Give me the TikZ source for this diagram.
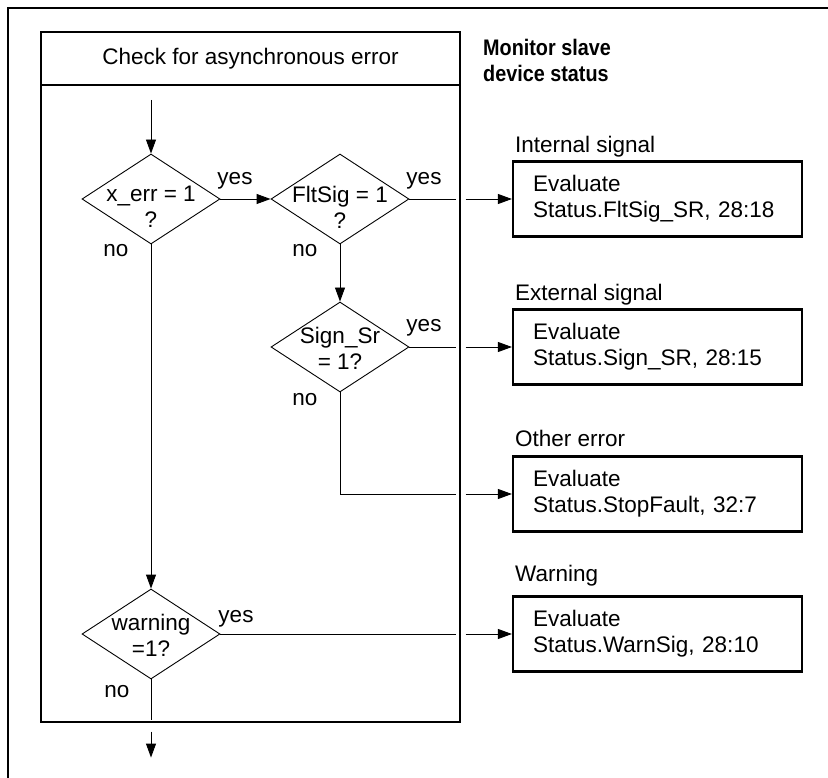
\documentclass[tikz,border=0pt]{standalone}
\usepackage{fontspec}
\usepackage{graphicx}
\setmainfont{Liberation Sans}
\usetikzlibrary{shapes.geometric,arrows.meta,calc}
\begin{document}
\begin{tikzpicture}[x=1pt,y=-1pt,
  every node/.style={font=\fontsize{22.5}{26}\selectfont},
  decision/.style={draw, shape=diamond, minimum width=138pt, minimum height=90pt,
    inner sep=0pt, line width=0.9pt},
  dtext/.style={align=center, inner sep=0pt},
  evalbox/.style={draw, line width=2.2pt, minimum width=289pt, minimum height=75pt,
    text width=249pt, inner xsep=20pt, inner ysep=0pt, align=left},
  caption/.style={anchor=base west, inner sep=0pt},
  answer/.style={anchor=base, inner sep=0pt},
  heading/.style={anchor=base west, inner sep=0pt, font=\fontsize{22.5}{26}\selectfont\bfseries},
  flow/.style={line width=0.9pt},
  tip/.style={-{Triangle[length=14pt,width=10pt]}},
  panelline/.style={draw, line width=1.1pt, inner sep=0pt}
]
\useasboundingbox (0,0) rectangle (828,778);

% outer frame (top and left edges)
\draw[line width=1.6pt] (828,8) -- (8,8) -- (8,778);

% procedure panel with its header
\node (head) [panelline, minimum width=419pt, minimum height=53pt] at (250.5,58.5)
  {Check for asynchronous error};
\node (panel) [panelline, minimum width=419pt, minimum height=637pt] at (250.5,403.5) {};

% section title
\node (title1) [heading] at (483,56) {\scalebox{0.88}[1]{Monitor slave}};
\node (title2) [heading] at (483,82) {\scalebox{0.88}[1]{device status}};

% decisions
\node (d1) [decision] at (151,199) {};
\node (d2) [decision] at (340,199) {};
\node (d3) [decision] at (340,347) {};
\node (d4) [decision] at (151,634) {};
\node (t1) [dtext] at (151,207) {x\_err = 1\\?};
\node (t2) [dtext] at (340,207) {FltSig = 1\\?};
\node (t3) [dtext] at (340,348) {Sign\_Sr\\= 1?};
\node (t4) [dtext] at (151,635) {warning\\=1?};

% answers on the branches
\node (y1) [answer] at (235,185) {yes};
\node (n1) [answer] at (116,257) {no};
\node (y2) [answer] at (424,185) {yes};
\node (n2) [answer] at (305,257) {no};
\node (y3) [answer] at (424,332) {yes};
\node (n3) [answer] at (305,405) {no};
\node (y4) [answer] at (236,622) {yes};
\node (n4) [answer] at (117,697) {no};

% evaluation boxes and their captions
\node (b1) [evalbox] at (657.5,199) {Evaluate\\Status.FltSig\_SR, 28:18};
\node (b2) [evalbox] at (657.5,347) {Evaluate\\Status.Sign\_SR, 28:15};
\node (b3) [evalbox] at (657.5,494) {Evaluate\\Status.StopFault, 32:7};
\node (b4) [evalbox] at (657.5,634) {Evaluate\\Status.WarnSig, 28:10};
\node (c1) [caption] at (515,153) {Internal signal};
\node (c2) [caption] at (515,301) {External signal};
\node (c3) [caption] at (515,446) {Other error};
\node (c4) [caption] at (515,581) {Warning};

% flow inside the panel
\coordinate (entry) at (151,100);
\draw[flow,tip] (entry) -- (d1.north);
\draw[flow,tip] (d1.east) -- (d2.west);
\draw[flow,tip] (d2.south) -- (d3.north);
\draw[flow,tip] (d1.south) -- (d4.north);

% branches leaving the panel (broken where they cross its edge)
\coordinate (o1a) at ($(d2.east -| panel.east)+(-5,0)$);
\coordinate (o1b) at ($(d2.east -| panel.east)+(5,0)$);
\draw[flow] (d2.east) -- (o1a);
\draw[flow,tip] (o1b) -- (b1.west);

\coordinate (o2a) at ($(d3.east -| panel.east)+(-5,0)$);
\coordinate (o2b) at ($(d3.east -| panel.east)+(5,0)$);
\draw[flow] (d3.east) -- (o2a);
\draw[flow,tip] (o2b) -- (b2.west);

\coordinate (k3) at (d3.south |- b3.west);
\coordinate (o3a) at ($(b3.west -| panel.east)+(-5,0)$);
\coordinate (o3b) at ($(b3.west -| panel.east)+(5,0)$);
\draw[flow] (d3.south) -- (k3) -- (o3a);
\draw[flow,tip] (o3b) -- (b3.west);

\coordinate (o4a) at ($(d4.east -| panel.east)+(-5,0)$);
\coordinate (o4b) at ($(d4.east -| panel.east)+(5,0)$);
\draw[flow] (d4.east) -- (o4a);
\draw[flow,tip] (o4b) -- (b4.west);

% exit at the bottom
\coordinate (x1) at ($(d4.south |- panel.south)+(0,-3)$);
\coordinate (x2) at ($(d4.south |- panel.south)+(0,9)$);
\coordinate (x3) at ($(d4.south |- panel.south)+(0,35)$);
\draw[flow] (d4.south) -- (x1);
\draw[flow,tip] (x2) -- (x3);
\end{tikzpicture}
\end{document}
